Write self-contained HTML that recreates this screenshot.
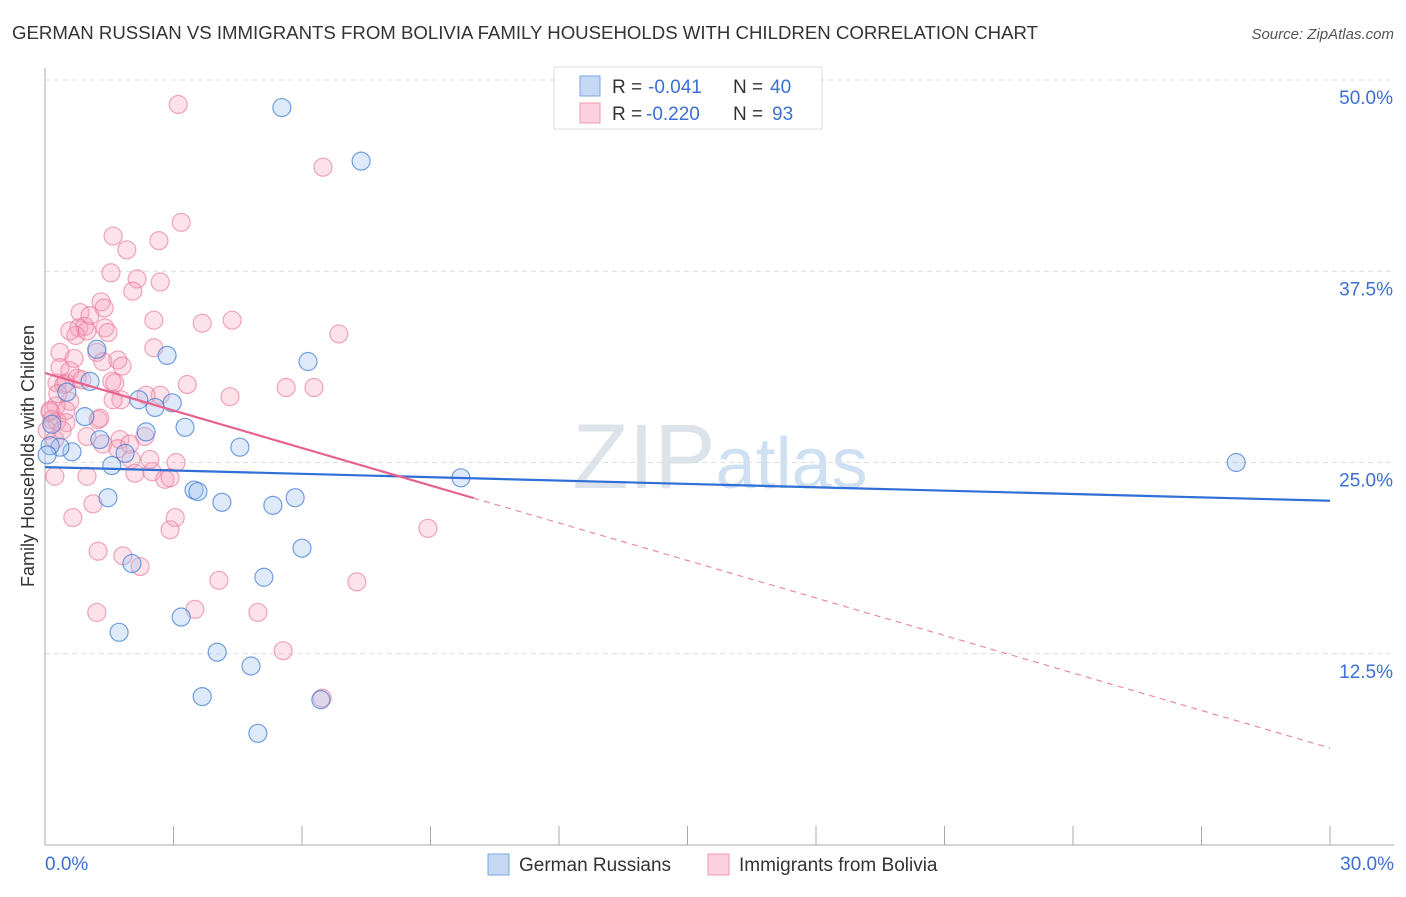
<!DOCTYPE html>
<html><head><meta charset="utf-8"><style>
body{margin:0;background:#fff;font-family:"Liberation Sans",sans-serif;}
svg text{font-family:"Liberation Sans",sans-serif;}
</style></head><body>
<svg id="chart" width="1406" height="892" xmlns="http://www.w3.org/2000/svg">
<text x="12" y="39" font-size="18" fill="#333" textLength="1026" lengthAdjust="spacingAndGlyphs">GERMAN RUSSIAN VS IMMIGRANTS FROM BOLIVIA FAMILY HOUSEHOLDS WITH CHILDREN CORRELATION CHART</text>
<text x="1394" y="39" font-size="15" fill="#555" font-style="italic" text-anchor="end">Source: ZipAtlas.com</text>
<text x="720" y="488" font-size="92" fill="#dde3ea" text-anchor="middle" font-family="Liberation Serif">ZIP<tspan fill="#cfe0f3" font-family="Liberation Sans" font-size="72">atlas</tspan></text>
<g id="grid"></g>
<g id="axes"></g>
<g id="marks"></g>
<text transform="translate(34,456) rotate(-90)" font-size="18" fill="#333" text-anchor="middle">Family Households with Children</text>
<g>
<rect x="554" y="67" width="268" height="62" fill="#fff" stroke="#ddd"/>
<rect x="580" y="76" width="20" height="20" fill="#c5d9f5" stroke="#7aa6e0"/>
<rect x="580" y="103" width="20" height="20" fill="#fcd0dc" stroke="#ee9ab2"/>
<text x="612" y="93" font-size="19" fill="#333">R =</text>
<text x="648" y="93" font-size="19" fill="#3b6fd4">-0.041</text>
<text x="733" y="93" font-size="19" fill="#333">N =</text>
<text x="770" y="93" font-size="19" fill="#3b6fd4">40</text>
<text x="612" y="120" font-size="19" fill="#333">R =</text>
<text x="646" y="120" font-size="19" fill="#3b6fd4">-0.220</text>
<text x="733" y="120" font-size="19" fill="#333">N =</text>
<text x="772" y="120" font-size="19" fill="#3b6fd4">93</text>
</g>
<g>
<rect x="488" y="854" width="21" height="21" fill="#c5d9f5" stroke="#7aa6e0"/>
<text x="519" y="871" font-size="19" fill="#333">German Russians</text>
<rect x="708" y="854" width="21" height="21" fill="#fcd0dc" stroke="#ee9ab2"/>
<text x="739" y="871" font-size="19" fill="#333">Immigrants from Bolivia</text>
</g>
</svg>
<script>
const yTicks=[12.5,25.0,37.5,50.0];
const xTickLabels=["0.0%","30.0%"];
const blueX=[5.53,7.38,2.85,6.14,1.21,1.05,0.51,0.93,2.19,2.97,2.57,2.36,3.27,4.55,1.28,1.87,1.56,0.63,0.35,0.12,9.71,27.81,1.47,3.48,3.57,4.13,5.32,5.84,6.00,2.03,5.11,3.18,1.73,4.02,4.81,3.67,6.44,4.97,0.16,0.05];
const blueY=[48.2,44.7,32.0,31.6,32.4,30.3,29.6,28.0,29.1,28.9,28.6,27.0,27.3,26.0,26.5,25.6,24.8,25.7,26.0,26.1,24.0,25.0,22.7,23.2,23.1,22.4,22.2,22.7,19.4,18.4,17.5,14.9,13.9,12.6,11.7,9.7,9.5,7.3,27.5,25.5];
const pinkX=[3.11,6.49,3.18,1.59,1.91,2.66,1.54,2.15,2.69,2.05,1.31,1.38,0.82,1.05,2.54,4.37,3.67,0.79,0.93,1.40,1.47,0.72,6.86,0.35,1.21,0.68,1.70,1.80,2.54,1.35,0.35,0.58,0.28,0.49,0.75,0.44,1.56,1.63,3.32,4.32,5.63,6.28,2.69,1.77,0.58,0.26,0.12,0.28,0.49,1.24,0.16,0.05,0.98,2.33,1.75,1.35,1.70,2.01,3.06,2.10,2.50,2.80,2.92,0.98,0.23,0.65,3.04,2.92,8.94,1.12,1.24,1.82,2.22,4.06,7.28,3.50,4.97,1.21,5.56,6.47,0.12,0.49,0.23,1.59,2.36,0.98,0.86,1.98,1.28,0.40,0.58,2.45,0.30];
const pinkY=[48.4,44.3,40.7,39.8,38.9,39.5,37.4,37.0,36.8,36.2,35.5,35.1,34.8,34.6,34.3,34.3,34.1,33.8,33.9,33.8,33.5,33.3,33.4,32.2,32.2,31.8,31.7,31.3,32.5,31.6,31.2,31.0,30.2,30.2,30.5,30.1,30.3,30.2,30.1,29.3,29.9,29.9,29.4,29.1,29.0,28.7,28.3,27.7,27.6,27.8,27.8,27.1,26.7,26.7,26.5,26.2,25.9,25.2,25.0,24.3,24.4,23.9,24.0,24.1,24.1,21.4,21.4,20.6,20.7,22.3,19.2,18.9,18.2,17.3,17.2,15.4,15.2,15.2,12.7,9.6,28.4,28.4,26.5,29.1,29.4,33.6,30.4,26.2,27.9,27.1,33.6,25.2,29.5];
const blueTrend=[24.7,22.5];
const pinkTrend=[30.85,6.34];
const pinkSolidEnd=10;

const NS="http://www.w3.org/2000/svg";
const X=p=>45+p/30*1285;
const Y=v=>80+(50-v)*15.3;
function mk(tag,attrs,parent){const e=document.createElementNS(NS,tag);for(const k in attrs)e.setAttribute(k,attrs[k]);document.getElementById(parent).appendChild(e);return e;}

yTicks.forEach(t=>{
  const l=mk('line',{x1:45,x2:1394,y1:Y(t),y2:Y(t),stroke:'#ddd','stroke-dasharray':'5,4'},'grid');
  
  
  const tx=mk('text',{x:1393,y:Y(t)+24,'font-size':19,fill:'#3b6fd4','text-anchor':'end'},'grid');
  tx.textContent=t.toFixed(1)+'%';
  
  
});
const ax=mk('line',{x1:45,x2:45,y1:68,y2:845,stroke:'#aaa'},'axes');


const bx=mk('line',{x1:45,x2:1394,y1:845,y2:845,stroke:'#aaa'},'axes');


for(let i=0;i<=10;i++){
  const t=mk('line',{x1:X(i*3),x2:X(i*3),y1:826,y2:845,stroke:'#aaa'},'axes');
  
  
}
const xl0=mk('text',{x:45,y:870,'font-size':19,fill:'#3b6fd4'},'axes');xl0.textContent=xTickLabels[0];


const xl1=mk('text',{x:1394,y:870,'font-size':19,fill:'#3b6fd4','text-anchor':'end'},'axes');xl1.textContent=xTickLabels[1];



pinkX.forEach((p,i)=>{
  const c=mk('circle',{cx:X(p),cy:Y(pinkY[i]),r:9,fill:'rgba(247,160,185,0.3)',stroke:'rgba(232,120,155,0.65)','stroke-width':1.2},'marks');
  
  
});
blueX.forEach((p,i)=>{
  const c=mk('circle',{cx:X(p),cy:Y(blueY[i]),r:9,fill:'rgba(160,195,240,0.35)',stroke:'rgba(60,120,210,0.7)','stroke-width':1.2},'marks');
  
  
});
const bt=mk('line',{x1:X(0),y1:Y(blueTrend[0]),x2:X(30),y2:Y(blueTrend[1]),stroke:'#2f6fd6','stroke-width':2.2},'marks');


const pv=x=>pinkTrend[0]+(pinkTrend[1]-pinkTrend[0])*x/30;
const ps=mk('line',{x1:X(0),y1:Y(pv(0)),x2:X(pinkSolidEnd),y2:Y(pv(pinkSolidEnd)),stroke:'#e8618d','stroke-width':2.2},'marks');


const pd=mk('line',{x1:X(pinkSolidEnd),y1:Y(pv(pinkSolidEnd)),x2:X(30),y2:Y(pv(30)),stroke:'#eb8aa8','stroke-width':1.2,'stroke-dasharray':'6,5'},'marks');


</script>
</body></html>
